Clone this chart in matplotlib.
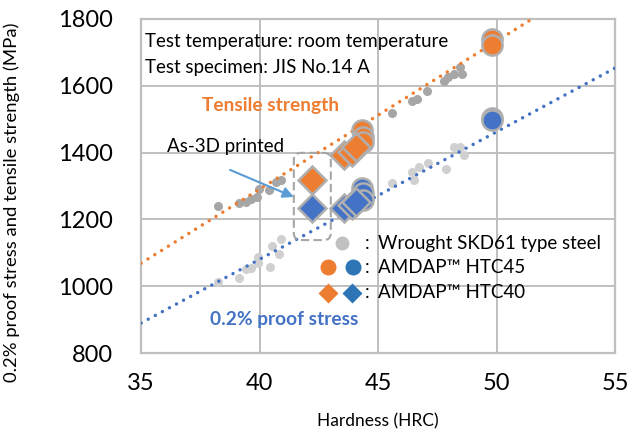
import matplotlib
matplotlib.use('Agg')
import matplotlib.pyplot as plt
from matplotlib.patches import FancyBboxPatch

plt.rcParams['font.family'] = ['Lato', 'DejaVu Sans']

# wrought SKD61 type steel (grey)
skd_hrc_ts = [38.24, 39.13, 39.42, 39.63, 39.88, 39.97, 40.39, 40.68, 40.89,
              45.57, 46.41, 46.62, 47.04, 47.76, 47.93, 48.18, 48.47, 48.52]
skd_ts = [1240, 1249, 1252, 1261, 1267, 1291, 1288, 1312, 1318,
          1519, 1554, 1560, 1584, 1614, 1626, 1635, 1656, 1635]
skd_hrc_ys = [38.24, 39.13, 39.42, 39.63, 39.93, 39.93, 40.43, 40.5, 40.8, 40.9,
              45.57, 46.41, 46.5, 46.7, 47.08, 47.84, 48.18, 48.47, 48.6]
skd_ys = [1013, 1025, 1051, 1054, 1069, 1087, 1057, 1120, 1096, 1141,
          1309, 1342, 1318, 1357, 1369, 1351, 1417, 1417, 1393]

# AMDAP HTC45 (circles)
htc45_hrc = [44.3, 44.35, 44.35, 49.8, 49.8]
htc45_ts = [1468, 1447, 1432, 1740, 1722]
htc45_ys = [1294, 1279, 1258, 1502, 1498]

# AMDAP HTC40 (diamonds), first one = as-3D printed
htc40_hrc = [42.2, 43.55, 43.9, 44.05]
htc40_ts = [1318, 1393, 1402, 1417]
htc40_ys = [1234, 1234, 1243, 1252]

# trend lines (end points)
trend_hrc = [35, 55]
trend_ts = [1069, 1955]
trend_ys = [890, 1653]

orange = '#ED7D31'
blue = '#4472C4'
edge = '#AFAFAF'

fig = plt.figure(figsize=(6.33, 4.37), dpi=100)
ax = fig.add_axes([0.223, 0.192, 0.749, 0.765])

ax.plot(skd_hrc_ts, skd_ts, 'o', color='#A6A6A6', ms=6.5, mec='none', zorder=2)
ax.plot(skd_hrc_ys, skd_ys, 'o', color='#D0D0D0', ms=6.5, mec='none', zorder=2)

ax.plot(trend_hrc, trend_ts, color=orange, lw=2.5, ls=(0, (0.01, 2.3)),
        dash_capstyle='round', zorder=3)
ax.plot(trend_hrc, trend_ys, color=blue, lw=2.5, ls=(0, (0.01, 2.3)),
        dash_capstyle='round', zorder=3)

for h, v in zip(htc45_hrc, htc45_ts):
    ax.plot(h, v, 'o', color=orange, ms=14.5, mec=edge, mew=1.8, zorder=4)
for h, v in zip(htc45_hrc, htc45_ys):
    ax.plot(h, v, 'o', color=blue, ms=14.5, mec=edge, mew=1.8, zorder=4)
for h, v in zip(htc40_hrc, htc40_ts):
    ax.plot(h, v, 'D', color=orange, ms=14.5, mec=edge, mew=1.8, zorder=4)
for h, v in zip(htc40_hrc, htc40_ys):
    ax.plot(h, v, 'D', color=blue, ms=14.5, mec=edge, mew=1.8, zorder=4)

ax.set_xlim(35, 55)
ax.set_ylim(800, 1800)
ax.set_xticks([35, 40, 45, 50, 55])
ax.set_yticks([800, 1000, 1200, 1400, 1600, 1800])
ax.grid(True, color='#BFBFBF', lw=1.4)
ax.set_axisbelow(True)
for s in ax.spines.values():
    s.set_color('#BFBFBF')
    s.set_linewidth(1.6)
ax.tick_params(length=0, labelsize=17)
ax.tick_params(axis='y', pad=20)
ax.tick_params(axis='x', pad=14)

ax.set_xlabel('Hardness (HRC)', fontsize=12.5)
ax.set_ylabel('0.2% proof stress and tensile strength (MPa)', fontsize=13.3)
ax.xaxis.set_label_coords(0.5, -0.18)
ax.yaxis.set_label_coords(-0.255, 0.45)

ax.text(35.15, 1731, 'Test temperature: room temperature', fontsize=13.5,
        va='center', zorder=5)
ax.text(35.15, 1653, 'Test specimen: JIS No.14 A', fontsize=13.5,
        va='center', zorder=5)
ax.text(40.45, 1540, 'Tensile strength', fontsize=13.8, color=orange,
        fontweight='bold', ha='center', va='center')
ax.text(41.05, 899, '0.2% proof stress', fontsize=13.8, color=blue,
        fontweight='bold', ha='center', va='center')
ax.text(36.1, 1417, 'As-3D printed', fontsize=13.5, va='center')
ax.annotate('', xy=(41.44, 1267), xytext=(38.75, 1348),
            arrowprops=dict(arrowstyle='-|>', color='#5B9BD5', lw=1.5,
                            mutation_scale=16, shrinkA=0, shrinkB=0))

box = FancyBboxPatch(((41.44 - 35) / 20, (1138 - 800) / 1000),
                     (43.0 - 41.44) / 20, (1399 - 1138) / 1000,
                     boxstyle='round,pad=0,rounding_size=0.015',
                     mutation_aspect=1.42, transform=ax.transAxes,
                     fill=False, ec='#A6A6A6', lw=1.5, ls=(0, (4, 2)), zorder=3)
ax.add_patch(box)

# custom legend
ax.plot(43.46, 1129, 'o', color='#C0C0C0', ms=10, mec='none', zorder=5)
ax.plot([42.87], [1057], 'o', color=orange, ms=11.5, mec='none', zorder=5)
ax.plot([43.92], [1057], 'o', color='#2E75B6', ms=11.5, mec='none', zorder=5)
ax.plot([42.87], [980], 'D', color=orange, ms=10, mec='none', zorder=5)
ax.plot([43.88], [980], 'D', color='#2E75B6', ms=10, mec='none', zorder=5)
for v, lab in zip([1129, 1057, 980],
                  ['Wrought SKD61 type steel', 'AMDAP™ HTC45', 'AMDAP™ HTC40']):
    ax.text(44.52, v, ':', fontsize=13.5, ha='center', va='center', zorder=5)
    ax.text(44.98, v, lab, fontsize=13.5, va='center', zorder=5)

plt.savefig('out.png', dpi=100)
